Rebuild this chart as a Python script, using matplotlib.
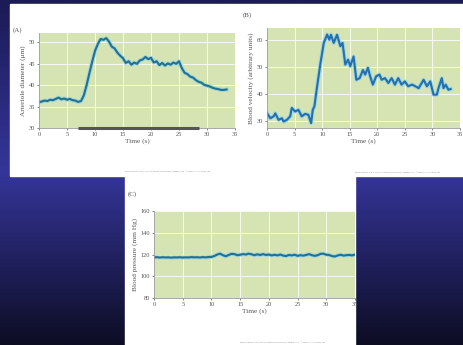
import numpy as np
import matplotlib
matplotlib.use('Agg')
import matplotlib.pyplot as plt
import matplotlib.patheffects as pe
from matplotlib.colors import LinearSegmentedColormap
from matplotlib.patches import Rectangle

W, H = 464, 345

# (A) arteriole diameter (um)
a_time = [0, 0.5, 1, 1.5, 2, 2.5, 3, 3.5, 4, 4.5, 5, 5.5, 6, 6.5, 7, 7.5, 8, 8.5, 9, 9.5,
          10, 10.5, 11, 11.5, 12, 12.5, 13, 13.5, 14, 14.5, 15, 15.5, 16, 16.5, 17, 17.5,
          18, 18.5, 19, 19.5, 20, 20.5, 21, 21.5, 22, 22.5, 23, 23.5, 24, 24.5, 25, 25.5,
          26, 26.5, 27, 27.5, 28, 28.5, 29, 29.5, 30, 30.5, 31, 31.5, 32, 32.5, 33, 33.5]
a_diam = [36.0, 36.2, 36.4, 36.3, 36.6, 36.5, 36.8, 37.1, 36.7, 36.9, 36.6, 36.8, 36.5, 36.4,
          36.1, 36.3, 37.6, 40.0, 42.8, 45.5, 48.0, 49.6, 50.8, 50.6, 51.0, 50.2, 49.0, 48.6,
          47.6, 46.9, 46.3, 45.2, 45.6, 44.8, 45.3, 45.0, 45.8, 46.0, 46.6, 46.1, 46.4, 45.3,
          45.6, 44.7, 45.2, 44.6, 45.1, 44.8, 45.3, 45.0, 45.6, 44.0, 42.9, 42.6, 42.0, 41.8,
          41.2, 40.8, 40.6, 40.1, 39.9, 39.7, 39.4, 39.2, 39.1, 38.9, 38.9, 39.0]
stim_on, stim_off = 7.0, 28.6

# (B) blood velocity (arbitrary units)
b_time = [0, 0.6, 1.2, 1.5, 2.1, 2.7, 3.0, 3.6, 4.2, 4.5, 5.1, 5.7, 6.3, 6.9, 7.5, 8.0, 8.3,
          8.6, 9.0, 9.7, 10.3, 10.9, 11.3, 11.6, 12.1, 12.7, 13.3, 13.7, 14.2, 14.7, 15.1,
          15.7, 16.2, 16.8, 17.4, 17.8, 18.3, 18.7, 19.2, 19.8, 20.4, 20.8, 21.4, 22.0, 22.6,
          23.2, 23.8, 24.4, 25.0, 25.6, 26.3, 26.9, 27.5, 28.4, 29.0, 29.6, 30.2, 30.8, 31.1,
          31.7, 32.0, 32.4, 32.9, 33.3]
b_vel = [33.1, 31.2, 31.9, 33.0, 30.6, 31.2, 30.0, 30.6, 31.9, 35.0, 33.7, 34.3, 31.9, 32.8,
         32.5, 29.4, 34.3, 35.6, 41.7, 51.6, 59.0, 62.1, 60.2, 62.0, 59.0, 62.0, 57.8, 59.0,
         51.0, 52.8, 50.4, 54.0, 45.4, 46.0, 49.0, 47.3, 49.8, 46.7, 43.6, 46.7, 47.3, 45.4,
         46.0, 44.2, 46.0, 43.6, 46.0, 43.6, 44.8, 43.0, 43.6, 43.0, 42.3, 45.4, 43.0, 44.8,
         39.9, 39.9, 42.3, 46.0, 42.3, 43.6, 41.7, 42.0]

# (C) blood pressure (mm Hg)
c_time = [i * 0.5 for i in range(71)]
c_press = [117.5, 117.8, 117.4, 117.7, 117.5, 117.6, 117.3, 117.6, 117.5, 117.7, 117.4,
           117.6, 117.5, 117.8, 117.6, 117.7, 117.5, 117.8, 117.6, 117.9, 118.0,
           118.8, 120.2, 121.0, 119.6, 118.6, 119.8, 120.8, 120.6, 119.6, 120.0, 120.6,
           120.2, 121.0, 120.4, 119.6, 120.4, 119.8, 120.6, 119.8, 120.2, 119.4, 120.0,
           119.4, 120.2, 119.2, 118.8, 119.8, 119.4, 120.0, 119.0, 119.6, 119.2, 119.8,
           120.6, 119.6, 119.0, 119.6, 120.8, 121.0, 120.0, 119.8, 118.8, 118.4, 119.4,
           120.0, 119.2, 119.6, 119.8, 119.4, 120.2]

SERIF = ['Liberation Serif', 'DejaVu Serif']
GREEN = '#d5e4b2'
TXT = '#555555'
FOOT = 'PRINCIPLES OF VASCULAR PHYSIOLOGY, Figure 2.24   \u00a9 Sinauer Associates, Inc.'

fig = plt.figure(figsize=(W / 100, H / 100), dpi=100)


def fx(px):
    return px / W


def fy(py):
    return 1 - py / H


# slide background gradient
bg = fig.add_axes([0, 0, 1, 1], zorder=-10)
cmap = LinearSegmentedColormap.from_list(
    'slide', [(0, '#1b1b55'), (0.5, '#35359a'), (1.0, '#0d0d24')])
bg.imshow(np.linspace(0, 1, 256).reshape(-1, 1), aspect='auto', cmap=cmap,
          extent=[0, 1, 0, 1])
bg.set_axis_off()

# white figure panels
fig.patches.append(Rectangle((fx(10), fy(176)), fx(454), 172 / H,
                             transform=fig.transFigure, color='white', zorder=-5))
fig.patches.append(Rectangle((fx(125), 0), fx(230), fy(176),
                             transform=fig.transFigure, color='white', zorder=-5))


def panel(rect, t, v, xlim, ylim, yticks, ylabel, lc):
    ax = fig.add_axes(rect)
    ax.set_facecolor(GREEN)
    ax.plot(t, v, color=lc, lw=1.5, solid_joinstyle='round',
            path_effects=[pe.Stroke(linewidth=2.9, foreground='#9fd6df'), pe.Normal()])
    ax.set_xlim(*xlim)
    ax.set_ylim(*ylim)
    ax.set_xticks(range(0, 36, 5))
    ax.set_yticks(yticks)
    ax.grid(True, color='white', lw=0.7, alpha=0.8)
    ax.set_axisbelow(True)
    for s in ['top', 'right']:
        ax.spines[s].set_visible(False)
    for s in ['left', 'bottom']:
        ax.spines[s].set_color('#9a9a9a')
        ax.spines[s].set_linewidth(0.6)
    ax.tick_params(labelsize=4.6, colors=TXT, length=1.5, width=0.5, pad=1.5)
    for lab in ax.get_xticklabels() + ax.get_yticklabels():
        lab.set_family(SERIF)
    ax.set_xlabel('Time (s)', fontsize=5.2, family=SERIF, color=TXT, labelpad=1)
    ax.set_ylabel(ylabel, fontsize=5.2, family=SERIF, color=TXT, labelpad=2)
    return ax


axA = panel([fx(39), fy(128), fx(196), 95 / H], a_time, a_diam, (0, 35), (30, 52.2),
            range(30, 51, 5), 'Arteriole diameter (\u03bcm)', '#23708f')
axA.plot([stim_on, stim_off], [30, 30], color='#555555', lw=2.2,
         solid_capstyle='butt', clip_on=False, zorder=5)

panel([fx(267), fy(128), fx(193), 100 / H], b_time, b_vel, (0, 35), (27.6, 64.5),
      range(30, 61, 10), 'Blood velocity (arbitrary units)', '#246fae')

panel([fx(154), fy(298), fx(201), 86.5 / H], c_time, c_press, (0, 35), (80, 160),
      range(80, 161, 20), 'Blood pressure (mm Hg)', '#23708f')

for s, x, y in [('(A)', 13, 30), ('(B)', 243, 15), ('(C)', 128, 194)]:
    fig.text(fx(x), fy(y), s, fontsize=5, family=SERIF, color=TXT, va='center')

for x, y in [(125, 172), (355, 173), (240, 343)]:
    fig.text(fx(x), fy(y), FOOT, fontsize=1.7, family=SERIF, color='#777777', va='center')

fig.savefig('out.png', dpi=100)
